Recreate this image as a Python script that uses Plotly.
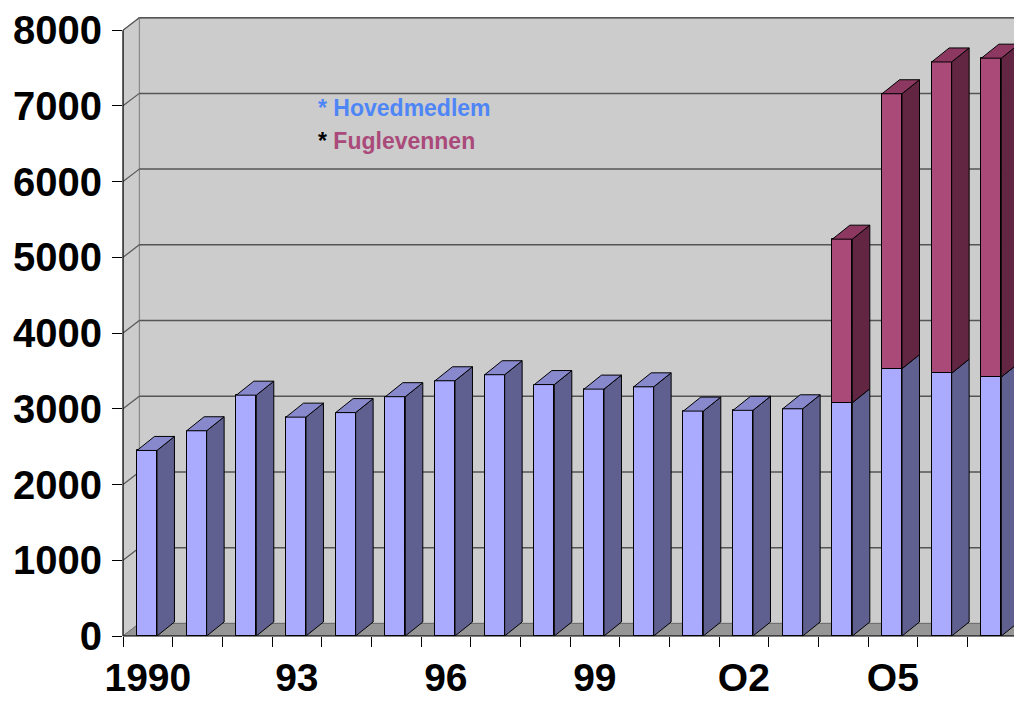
import plotly.graph_objects as go

# ---------------- data ----------------
years = list(range(1990, 2008))
hovedmedlem = [2450, 2710, 3180, 2890, 2950, 3160, 3370, 3450, 3320, 3260,
               3290, 2970, 2980, 3000, 3080, 3530, 3470, 3420]
fuglevennen = [0, 0, 0, 0, 0, 0, 0, 0, 0, 0,
               0, 0, 0, 0, 2160, 3630, 4110, 4210]
x_label_years = [1990, 1993, 1996, 1999, 2002, 2005]
x_labels = ["1990", "93", "96", "99", "O2", "O5"]
y_ticks = [0, 1000, 2000, 3000, 4000, 5000, 6000, 7000, 8000]

# ---------------- styling / geometry ----------------
N = len(years)
Y_MAX = 8200
X_MAX = 18.1
DXW, DYW = 0.328, 165      # wall depth offset (category units, value units)
DXB, DYB = 0.352, 185      # bar depth offset
BAR_OFF, BAR_W = 0.282, 0.402

BLUE_F, BLUE_S, BLUE_T = "#AAAAFF", "#606090", "#8888CC"
PURP_F, PURP_S, PURP_T = "#AA4A78", "#622642", "#8C3860"
WALL, FLOOR, GRID = "#CCCCCC", "#969696", "#555555"
FONT = "Liberation Sans, Arial, sans-serif"

# page body has an 8px default margin; plot area targets window px l=123, t=15, bottom=636
PAGE_OFF = 8
PLOT_L, PLOT_T, PLOT_W, PLOT_H = 123, 15, 899, 621

idx = [y - years[0] for y in years]
xc = [i + BAR_OFF + BAR_W / 2 for i in idx]

fig = go.Figure()

# front faces
fig.add_trace(go.Bar(x=xc, y=hovedmedlem, width=BAR_W, base=0,
                     marker=dict(color=BLUE_F, line=dict(color="black", width=1)),
                     name="Hovedmedlem", showlegend=False))
px = [xc[i] for i in range(N) if fuglevennen[i] > 0]
py = [fuglevennen[i] for i in range(N) if fuglevennen[i] > 0]
pb = [hovedmedlem[i] for i in range(N) if fuglevennen[i] > 0]
fig.add_trace(go.Bar(x=px, y=py, base=pb, width=BAR_W,
                     marker=dict(color=PURP_F, line=dict(color="black", width=1)),
                     name="Fuglevennen", showlegend=False))


def side_poly(i, y0, y1):
    r = i + BAR_OFF + BAR_W
    return [r, r + DXB, r + DXB, r, r, None], [y0, y0 + DYB, y1 + DYB, y1, y0, None]


def top_poly(i, h):
    l = i + BAR_OFF
    r = l + BAR_W
    return [l, l + DXB, r + DXB, r, l, None], [h, h + DYB, h + DYB, h, h, None]


def add_poly(xs, ys, color):
    fig.add_trace(go.Scatter(x=xs, y=ys, mode="lines", fill="toself",
                             fillcolor=color, line=dict(color="black", width=1),
                             hoverinfo="skip", showlegend=False))


bsx, bsy, btx, bty, psx, psy, ptx, pty = [], [], [], [], [], [], [], []
for i in range(N):
    b = hovedmedlem[i]
    p = fuglevennen[i]
    sx, sy = side_poly(i, 0, b)
    bsx += sx; bsy += sy
    if p > 0:
        sx, sy = side_poly(i, b, b + p)
        psx += sx; psy += sy
        tx, ty = top_poly(i, b + p)
        ptx += tx; pty += ty
    else:
        tx, ty = top_poly(i, b)
        btx += tx; bty += ty

add_poly(bsx, bsy, BLUE_S)
add_poly(btx, bty, BLUE_T)
add_poly(psx, psy, PURP_S)
add_poly(ptx, pty, PURP_T)

# ---------------- walls, floor, gridlines ----------------
shapes = []
shapes.append(dict(type="rect", xref="x", yref="y", x0=DXW, x1=N + DXW,
                   y0=DYW, y1=y_ticks[-1] + DYW, fillcolor=WALL,
                   line=dict(color="#888888", width=1.5), layer="below"))
shapes.append(dict(type="path", xref="x", yref="y",
                   path=f"M 0,0 L {DXW},{DYW} L {DXW},{y_ticks[-1] + DYW} L 0,{y_ticks[-1]} Z",
                   fillcolor=WALL, line=dict(color="#888888", width=1), layer="below"))
shapes.append(dict(type="path", xref="x", yref="y",
                   path=f"M 0,0 L {N},0 L {N + DXW},{DYW} L {DXW},{DYW} Z",
                   fillcolor=FLOOR, line=dict(color="#707070", width=1), layer="below"))
for v in y_ticks[1:]:
    shapes.append(dict(type="line", xref="x", yref="y", x0=DXW, x1=N + DXW,
                       y0=v + DYW, y1=v + DYW, line=dict(color=GRID, width=1.5),
                       layer="below"))
    shapes.append(dict(type="line", xref="x", yref="y", x0=0, x1=DXW,
                       y0=v, y1=v + DYW, line=dict(color=GRID, width=1.2),
                       layer="below"))
# axis lines (front plane)
shapes.append(dict(type="line", xref="paper", yref="paper", x0=0, x1=0,
                   y0=0, y1=y_ticks[-1] / Y_MAX, line=dict(color="black", width=1.2)))
shapes.append(dict(type="line", xref="paper", yref="paper", x0=0, x1=N / X_MAX,
                   y0=0, y1=0, line=dict(color="black", width=1.2)))

PLOT_B = PLOT_T + PLOT_H
annotations = [
    dict(xref="paper", yref="paper", x=(316 - PLOT_L) / PLOT_W, y=(PLOT_B - 108) / PLOT_H,
         xanchor="left", yanchor="middle", showarrow=False,
         text="<b>* Hovedmedlem</b>",
         font=dict(family=FONT, size=23, color="#4F86F7")),
    dict(xref="paper", yref="paper", x=(316 - PLOT_L) / PLOT_W, y=(PLOT_B - 141) / PLOT_H,
         xanchor="left", yanchor="middle", showarrow=False,
         text="<b><span style='color:black'>*</span> Fuglevennen</b>",
         font=dict(family=FONT, size=23, color="#AA4A7A")),
]

W, H = 1022, 702
fig.update_layout(
    width=W, height=H,
    margin=dict(l=PLOT_L - PAGE_OFF, t=PLOT_T - PAGE_OFF,
                r=W - (PLOT_L - PAGE_OFF) - PLOT_W,
                b=H - (PLOT_T - PAGE_OFF) - PLOT_H, pad=0, autoexpand=False),
    paper_bgcolor="white", plot_bgcolor="white",
    barmode="overlay", bargap=0,
    shapes=shapes, annotations=annotations,
    showlegend=False,
    xaxis=dict(range=[0, X_MAX], showgrid=False, zeroline=False, showline=False,
               automargin=False,
               tickmode="array",
               tickvals=[y - years[0] + 0.5 for y in x_label_years],
               ticktext=x_labels, ticks="",
               ticklabelstandoff=15,
               tickfont=dict(family=FONT, size=39, color="black", weight="bold"),
               minor=dict(tickmode="array", tickvals=list(range(N + 1)),
                          ticks="outside", ticklen=10, tickcolor="black", tickwidth=1,
                          showgrid=False)),
    yaxis=dict(range=[0, Y_MAX], showgrid=False, zeroline=False, showline=False,
               automargin=False,
               tickmode="array", tickvals=y_ticks,
               ticktext=[str(v) for v in y_ticks],
               ticks="outside", ticklen=10, tickcolor="black", tickwidth=1,
               ticklabelstandoff=2,
               tickfont=dict(family=FONT, size=40, color="black", weight="bold")),
)

fig.write_html("out.html")
